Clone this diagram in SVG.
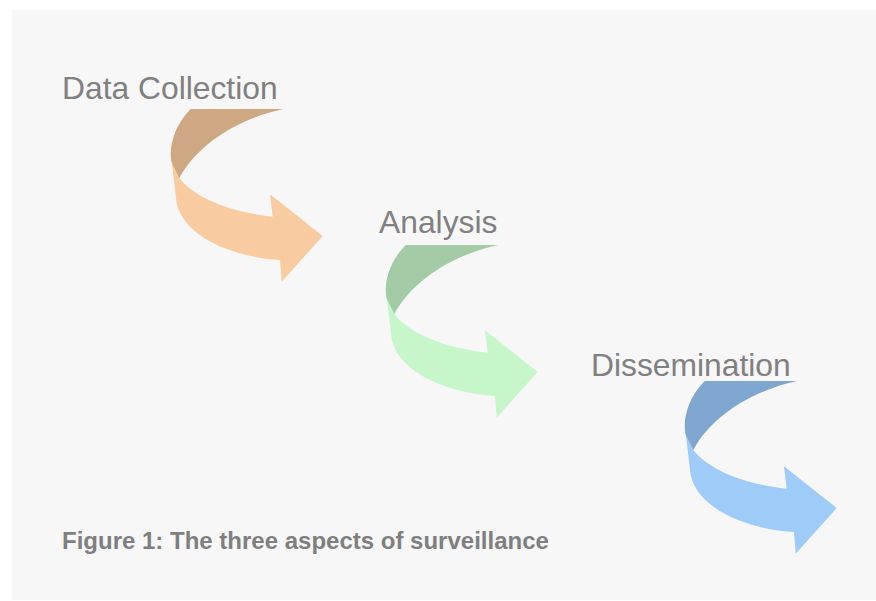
<svg xmlns="http://www.w3.org/2000/svg" width="876" height="601" viewBox="0 0 876 601">
  <defs>
    <style>
      .label { font-family: "Liberation Sans", Arial, sans-serif; font-size: 31.8px; fill: #808080; }
      .caption { font-family: "Liberation Sans", Arial, sans-serif; font-size: 24px; font-weight: bold; fill: #7f7f7f; }
    </style>
    <!-- curved arrow: back fold (dark) and front sweep with head (light) -->
    <path id="fold" d="M190.7,109 L283.3,109 C245,117 200,140 179.3,178 L171.5,162 C169,150 172,128 190.7,109 Z"/>
    <path id="sweep" d="M171.5,160 L179.3,178 C195,198 230,212 272.7,216.7 L270,194.3 L322.7,236 L281.7,281.7 L280,260 C240,258 185,240 176.7,203.3 Z"/>
  </defs>

  <rect x="12" y="10" width="864" height="590" fill="#f7f7f7"/>

  <g id="connectors">
    <g id="arrow-collection">
      <use href="#sweep" fill="#f8cca0"/>
      <use href="#fold" fill="#cda882"/>
    </g>
    <g id="arrow-analysis" transform="translate(215,136)">
      <use href="#sweep" fill="#c8f6cb"/>
      <use href="#fold" fill="#a3cba6"/>
    </g>
    <g id="arrow-dissemination" transform="translate(514,272)">
      <use href="#sweep" fill="#9ecbf7"/>
      <use href="#fold" fill="#7fa6ce"/>
    </g>
  </g>

  <g id="node-collection">
    <text class="label" x="62" y="98.5">Data Collection</text>
  </g>
  <g id="node-analysis">
    <text class="label" x="379" y="233">Analysis</text>
  </g>
  <g id="node-dissemination">
    <text class="label" x="591" y="376">Dissemination</text>
  </g>

  <text class="caption" x="62" y="549">Figure 1: The three aspects of surveillance</text>
</svg>
